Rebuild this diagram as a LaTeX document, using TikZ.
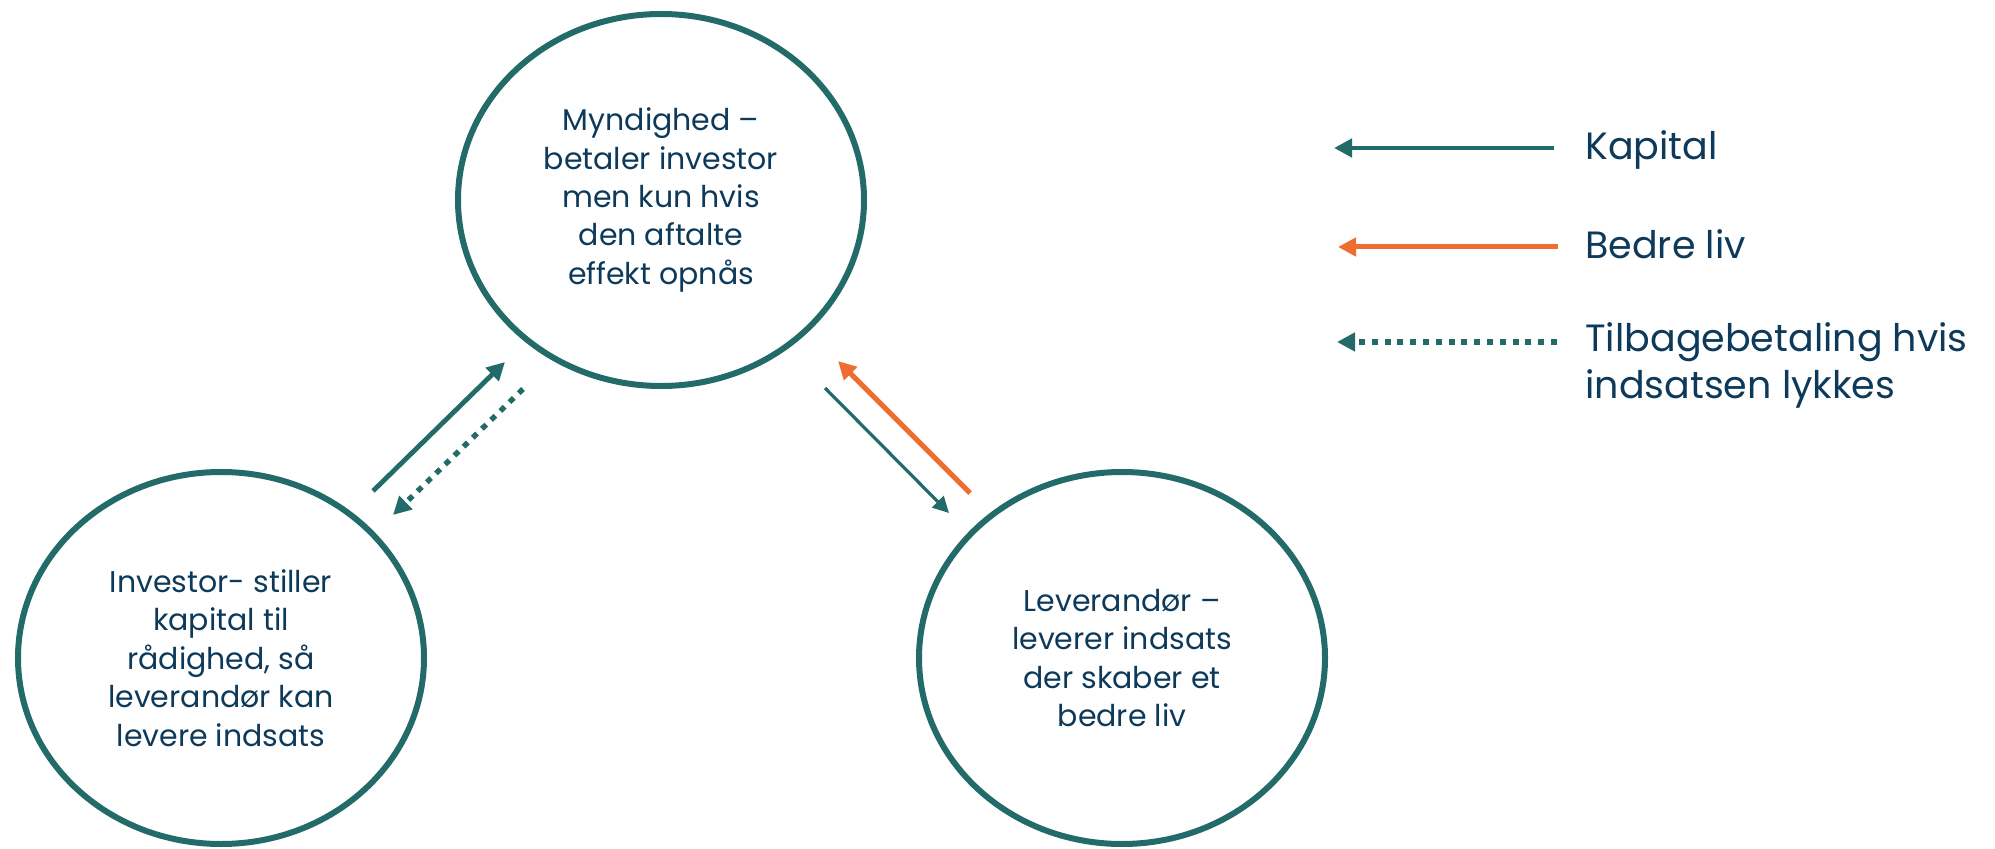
\documentclass[tikz,border=0pt]{standalone}
\usepackage{fontspec}
\setmainfont{Poppins}
\usetikzlibrary{shapes.geometric,arrows.meta}
\definecolor{teal}{HTML}{236B69}
\definecolor{orng}{HTML}{EE6D31}
\definecolor{navy}{HTML}{0D3A5A}
\tikzset{
  party/.style={ellipse, draw=teal, line width=3pt, minimum width=203pt, minimum height=186pt, inner sep=0pt,
    text=navy, align=center, font=\fontsize{15pt}{19.2pt}\selectfont},
  legtext/.style={text=navy, inner sep=0pt, align=left, font=\fontsize{19pt}{23.5pt}\selectfont},
  kap/.style={draw=teal, line width=2.4pt, -{Triangle[length=9pt,width=9pt]}},
  kapthin/.style={draw=teal, line width=1.6pt, -{Triangle[length=8pt,width=8pt]}},
  liv/.style={draw=orng, line width=2.5pt, -{Triangle[length=9pt,width=9pt]}},
  tilbage/.style={draw=teal, line width=2.7pt, dash pattern=on 3pt off 3.4pt, -{Triangle[length=9pt,width=9pt]}},
}
\begin{document}
\begin{tikzpicture}[x=0.5pt,y=-0.5pt]
\useasboundingbox (0,0) rectangle (1995,849);
\node[party] (myn) at (661,200) {Myndighed –\\betaler investor\\men kun hvis\\den aftalte\\effekt opnås};
\node[party] (inv) at (221,658) {Investor- stiller\\kapital til\\rådighed, så\\leverandør kan\\levere indsats};
\node[party] (lev) at (1122,658) {Leverandør –\\leverer indsats\\der skaber et\\bedre liv};
% connector end points
\coordinate (a1) at (373,491); \coordinate (a2) at (505,362);
\coordinate (b1) at (523,389); \coordinate (b2) at (393,515);
\coordinate (c1) at (825,388); \coordinate (c2) at (949,513);
\coordinate (d1) at (970,493); \coordinate (d2) at (838,361);
\draw[kap] (a1) -- (a2);
\draw[tilbage] (b1) -- (b2);
\draw[kapthin] (c1) -- (c2);
\draw[liv] (d1) -- (d2);
% legend
\coordinate (k1) at (1554,148); \coordinate (k2) at (1334,148);
\coordinate (l1) at (1558,247); \coordinate (l2) at (1338,247);
\coordinate (t1) at (1557,342); \coordinate (t2) at (1337,342);
\draw[kap] (k1) -- (k2);
\draw[liv] (l1) -- (l2);
\draw[tilbage] (t1) -- (t2);
\node[legtext, anchor=west] (kt) at (1585,150) {Kapital};
\node[legtext, anchor=west] (lt) at (1585,244) {Bedre liv};
\node[legtext, anchor=base west] (tt) at (1585,399) {Tilbagebetaling hvis\\indsatsen lykkes};
\end{tikzpicture}
\end{document}
